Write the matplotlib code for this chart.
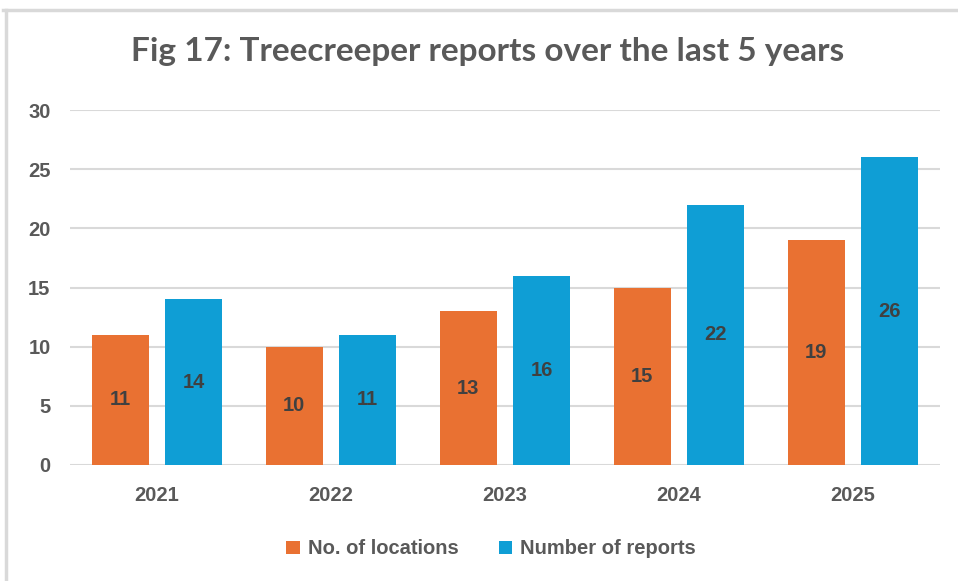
import matplotlib
matplotlib.use("Agg")
import matplotlib.pyplot as plt
import numpy as np
from matplotlib.lines import Line2D

years = ["2021", "2022", "2023", "2024", "2025"]
locations = [11, 10, 13, 15, 19]
reports = [14, 11, 16, 22, 26]
series_names = ["No. of locations", "Number of reports"]
title = "Fig 17: Treecreeper reports over the last 5 years"

orange = "#E97132"
blue = "#0F9ED5"
grid_c = "#D9D9D9"
text_c = "#595959"
label_c = "#404040"
fam = "Liberation Sans"
fs = 14.5

fig = plt.figure(figsize=(9.58, 5.81), dpi=100)
ax = fig.add_axes([70/958, 1-465/581, 870/958, 355/581])

x = np.arange(len(years))
w = 0.329
off = 0.211
b1 = ax.bar(x - off, locations, w, color=orange, label=series_names[0], zorder=3)
b2 = ax.bar(x + off, reports, w, color=blue, label=series_names[1], zorder=3)

for bars in (b1, b2):
    ax.bar_label(bars, label_type="center", fontsize=fs, fontweight="bold",
                 color=label_c, family=fam)

ax.set_xlim(-0.5, len(years) - 0.5)
ax.set_ylim(0, 30)
ax.set_yticks(range(0, 31, 5))
ax.set_xticks(x)
ax.set_xticklabels(years)
ax.yaxis.grid(True, color=grid_c, linewidth=1.5, zorder=0)
for s in ["top", "right", "left", "bottom"]:
    ax.spines[s].set_visible(False)
ax.axhline(0, color=grid_c, linewidth=2, zorder=2)
ax.tick_params(axis="both", length=0, labelsize=fs, labelcolor=text_c)
ax.tick_params(axis="y", pad=14)
ax.tick_params(axis="x", pad=15)
for lab in ax.get_xticklabels() + ax.get_yticklabels():
    lab.set_fontweight("bold")
    lab.set_family(fam)

fig.text(488/958, 1-52/581, title, ha="center", va="center", fontsize=24,
         fontweight="bold", color=text_c, family=["Lato", "DejaVu Sans"])

leg = fig.legend(loc="center", bbox_to_anchor=(491/958, 1-549/581), ncol=2, frameon=False,
                 prop={"family": fam, "weight": "bold", "size": fs},
                 handlelength=0.65, handleheight=0.65, columnspacing=2.0, handletextpad=0.4)
for t in leg.get_texts():
    t.set_color(text_c)

# frame lines
fig.add_artist(Line2D([3/958, 1], [1-10/581, 1-10/581], color=grid_c, linewidth=2.5))
fig.add_artist(Line2D([6/958, 6/958], [0, 1-10/581], color=grid_c, linewidth=2.5))

fig.savefig("out.png", dpi=100, facecolor="white")
